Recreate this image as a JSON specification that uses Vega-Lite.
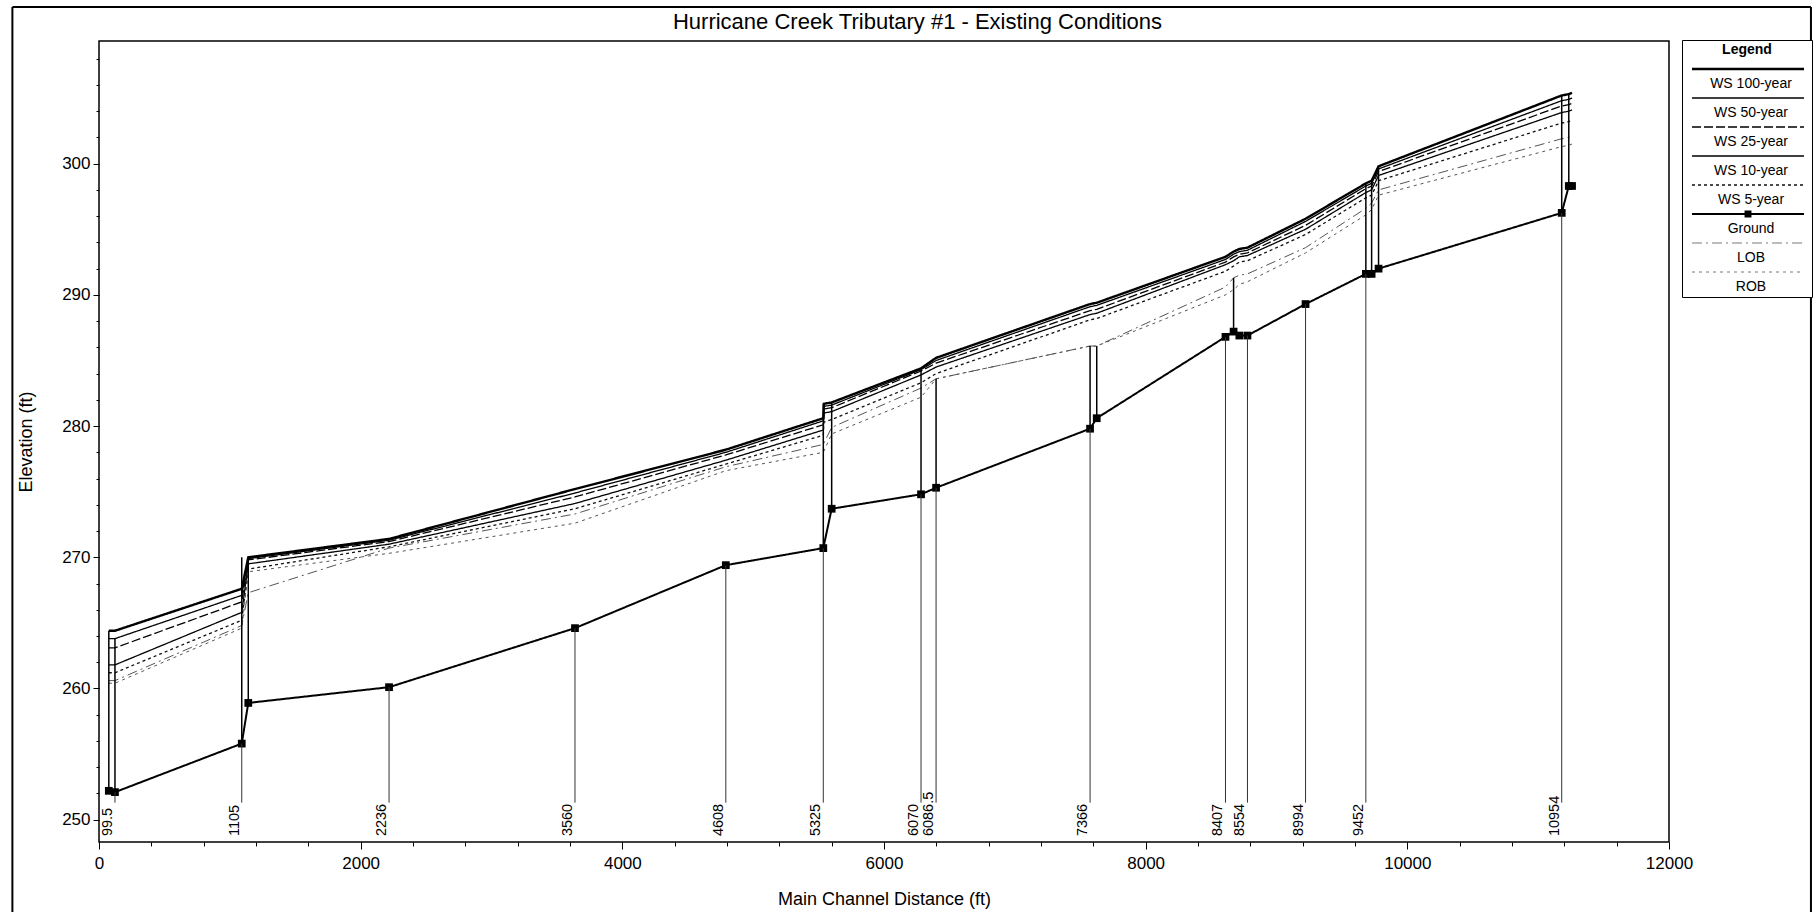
{
  "$schema": "https://vega.github.io/schema/vega-lite/v6.json",
  "width": 1570,
  "height": 801,
  "autosize": {"type": "none"},
  "padding": {"left": 99, "top": 41, "right": 149, "bottom": 70},
  "background": "white",
  "config": {
    "font": "Liberation Sans",
    "view": {"stroke": "black", "strokeWidth": 1.5},
    "axis": {
      "domain": false, "grid": false, "tickColor": "black", "labelColor": "black", "titleColor": "black",
      "labelFont": "Liberation Sans", "titleFont": "Liberation Sans", "labelFontSize": 17, "titleFontSize": 18,
      "titleFontWeight": "normal", "labelOverlap": false, "labelFlush": false
    }
  },
  "resolve": {"axis": {"x": "independent", "y": "independent"}},
  "datasets": {
    "profile": [
      {"i": 1, "x": 75, "ground": 252.2, "ws100": 264.4, "ws50": 263.8, "ws25": 263.1, "ws10": 261.8, "ws5": 261.2, "lob": 260.6, "rob": 260.4, "top": 264.4, "label": null},
      {"i": 2, "x": 122, "ground": 252.1, "ws100": 264.4, "ws50": 263.8, "ws25": 263.1, "ws10": 261.8, "ws5": 261.2, "lob": 260.6, "rob": 260.4, "top": 263.8, "label": "99.5"},
      {"i": 3, "x": 1091, "ground": 255.8, "ws100": 267.6, "ws50": 267.1, "ws25": 266.6, "ws10": 265.8, "ws5": 265.2, "lob": 264.8, "rob": 264.6, "top": 270.0, "label": "1105"},
      {"i": 4, "x": 1141, "ground": 258.9, "ws100": 270.0, "ws50": 269.9, "ws25": 269.8, "ws10": 269.5, "ws5": 269.1, "lob": 267.3, "rob": 268.9, "top": 270.0, "label": null},
      {"i": 5, "x": 2217, "ground": 260.1, "ws100": 271.4, "ws50": 271.3, "ws25": 271.2, "ws10": 271.0, "ws5": 270.8, "lob": 270.7, "rob": 270.3, "top": null, "label": "2236"},
      {"i": 6, "x": 3638, "ground": 264.6, "ws100": 275.2, "ws50": 274.9, "ws25": 274.6, "ws10": 274.1, "ws5": 273.7, "lob": 273.3, "rob": 272.6, "top": null, "label": "3560"},
      {"i": 7, "x": 4791, "ground": 269.4, "ws100": 278.2, "ws50": 278.0, "ws25": 277.8, "ws10": 277.4, "ws5": 277.1, "lob": 276.9, "rob": 276.6, "top": null, "label": "4608"},
      {"i": 8, "x": 5536, "ground": 270.7, "ws100": 280.6, "ws50": 280.4, "ws25": 280.1, "ws10": 279.7, "ws5": 279.3, "lob": 278.6, "rob": 278.0, "top": 281.7, "label": "5325"},
      {"i": 9, "x": 5541, "ground": null, "ws100": 281.7, "ws50": 281.5, "ws25": 281.3, "ws10": 281.0, "ws5": 280.3, "lob": null, "rob": null, "top": null, "label": null},
      {"i": 10, "x": 5600, "ground": 273.7, "ws100": 281.8, "ws50": 281.6, "ws25": 281.4, "ws10": 281.1, "ws5": 280.5, "lob": 279.9, "rob": 279.4, "top": 281.8, "label": null},
      {"i": 11, "x": 6283, "ground": 274.8, "ws100": 284.4, "ws50": 284.3, "ws25": 284.2, "ws10": 283.9, "ws5": 283.3, "lob": 282.9, "rob": 282.2, "top": 284.4, "label": "6070"},
      {"i": 12, "x": 6398, "ground": 275.3, "ws100": 285.2, "ws50": 285.0, "ws25": 284.8, "ws10": 284.5, "ws5": 284.0, "lob": 283.6, "rob": 283.6, "top": 283.6, "label": "6086.5"},
      {"i": 13, "x": 7575, "ground": 279.8, "ws100": 289.3, "ws50": 289.1, "ws25": 288.8, "ws10": 288.5, "ws5": 288.1, "lob": 286.1, "rob": 286.1, "top": 286.1, "label": "7366"},
      {"i": 14, "x": 7626, "ground": 280.6, "ws100": 289.4, "ws50": 289.2, "ws25": 288.9, "ws10": 288.6, "ws5": 288.2, "lob": 286.1, "rob": 286.1, "top": 286.1, "label": null},
      {"i": 15, "x": 8610, "ground": 286.8, "ws100": 292.9, "ws50": 292.7, "ws25": 292.5, "ws10": 292.3, "ws5": 291.8, "lob": 290.6, "rob": 290.0, "top": null, "label": "8407"},
      {"i": 16, "x": 8672, "ground": 287.2, "ws100": 293.3, "ws50": 293.1, "ws25": 292.9, "ws10": 292.6, "ws5": 292.2, "lob": 291.3, "rob": 290.4, "top": 291.3, "label": null},
      {"i": 17, "x": 8716, "ground": 286.9, "ws100": 293.5, "ws50": 293.3, "ws25": 293.1, "ws10": 292.9, "ws5": 292.5, "lob": 291.5, "rob": 290.8, "top": null, "label": null},
      {"i": 18, "x": 8778, "ground": 286.9, "ws100": 293.6, "ws50": 293.4, "ws25": 293.2, "ws10": 293.0, "ws5": 292.6, "lob": 291.6, "rob": 291.0, "top": null, "label": "8554"},
      {"i": 19, "x": 9222, "ground": 289.3, "ws100": 295.8, "ws50": 295.6, "ws25": 295.3, "ws10": 295.0, "ws5": 294.6, "lob": 293.6, "rob": 293.2, "top": null, "label": "8994"},
      {"i": 20, "x": 9683, "ground": 291.6, "ws100": 298.5, "ws50": 298.3, "ws25": 298.1, "ws10": 297.8, "ws5": 297.4, "lob": 296.6, "rob": 296.1, "top": 298.5, "label": "9452"},
      {"i": 21, "x": 9727, "ground": 291.6, "ws100": 298.7, "ws50": 298.5, "ws25": 298.3, "ws10": 298.0, "ws5": 297.6, "lob": 297.0, "rob": 296.5, "top": 298.7, "label": null},
      {"i": 22, "x": 9780, "ground": 292.0, "ws100": 299.8, "ws50": 299.6, "ws25": 299.4, "ws10": 299.1, "ws5": 298.7, "lob": 298.0, "rob": 297.6, "top": 299.8, "label": null},
      {"i": 23, "x": 11180, "ground": 296.25, "ws100": 305.2, "ws50": 304.8, "ws25": 304.4, "ws10": 303.9, "ws5": 303.1, "lob": 301.9, "rob": 301.3, "top": 305.2, "label": "10954"},
      {"i": 24, "x": 11234, "ground": 298.3, "ws100": 305.3, "ws50": 304.9, "ws25": 304.5, "ws10": 304.0, "ws5": 303.2, "lob": 302.0, "rob": 301.4, "top": 305.3, "label": null},
      {"i": 25, "x": 11259, "ground": 298.3, "ws100": 305.4, "ws50": 305.0, "ws25": 304.6, "ws10": 304.1, "ws5": 303.3, "lob": 302.1, "rob": 301.5, "top": null, "label": null}
    ],
    "heading": [
      {"t": "Hurricane Creek Tributary #1 - Existing Conditions"}
    ]
  },
  "data": {"name": "profile"},
  "layer": [
    {
      "transform": [
        {"fold": ["ws100", "ws50", "ws25", "ws10", "ws5", "ground", "lob", "rob"], "as": ["s", "elev"]},
        {"filter": "isValid(datum.elev)"}
      ],
      "mark": {"type": "line"},
      "encoding": {
        "x": {
          "field": "x", "type": "quantitative",
          "scale": {"domain": [0, 12000], "nice": false, "zero": false},
          "axis": {
            "title": "Main Channel Distance (ft)", "format": "d", "orient": "bottom",
            "values": [0, 2000, 4000, 6000, 8000, 10000, 12000],
            "tickSize": 7, "labelPadding": 6, "titlePadding": 19
          }
        },
        "y": {
          "field": "elev", "type": "quantitative",
          "scale": {"domain": [248.3, 309.35], "nice": false, "zero": false},
          "axis": {
            "title": "Elevation (ft)", "format": "d", "orient": "left",
            "values": [250, 260, 270, 280, 290, 300],
            "tickSize": 6, "labelPadding": 3, "titlePadding": 26
          }
        },
        "order": {"field": "i"},
        "color": {
          "field": "s", "type": "nominal",
          "scale": {"domain": ["ws100", "ws50", "ws25", "ws10", "ws5", "ground", "lob", "rob"], "range": ["#000000", "#000000", "#000000", "#000000", "#111111", "#000000", "#555555", "#555555"]},
          "legend": {
            "orient": "none", "legendX": 1583, "legendY": -1,
            "title": "Legend", "titleAnchor": "middle", "titleFontWeight": "bold", "titleFontSize": 14, "titleColor": "black", "titlePadding": 5,
            "labelFontSize": 14, "labelColor": "black", "labelAlign": "center", "labelBaseline": "top", "labelOffset": -4,
            "symbolSize": 49, "symbolOffset": 56,
            "rowPadding": 0, "padding": 3, "strokeColor": "black", "fillColor": "white",
            "labelExpr": "datum.label === 'ws100' ? 'WS 100-year' : datum.label === 'ws50' ? 'WS 50-year' : datum.label === 'ws25' ? 'WS 25-year' : datum.label === 'ws10' ? 'WS 10-year' : datum.label === 'ws5' ? 'WS 5-year' : datum.label === 'ground' ? 'Ground' : datum.label === 'lob' ? 'LOB' : 'ROB'",
            "encode": {
              "labels": {"update": {"dy": {"value": 8}}},
              "symbols": {
                "update": {
                  "shape": {"signal": "datum.value === 'ground' ? 'M-16,0H16M-0.7,-0.7H0.7V0.7H-0.7Z' : 'M-16,0H16'"},
                  "strokeWidth": {"signal": "datum.value === 'ws100' ? 2.4 : datum.value === 'ground' ? 2 : (datum.value === 'lob' || datum.value === 'rob') ? 0.8 : 1.3"},
                  "strokeDash": {"signal": "datum.value === 'ws25' ? [9,3] : datum.value === 'ws5' ? [3,3] : datum.value === 'lob' ? [10,4,2,4] : datum.value === 'rob' ? [3,4] : [1,0]"},
                  "fill": {"value": "black"}
                }
              }
            }
          }
        },
        "strokeDash": {
          "field": "s", "type": "nominal", "legend": null,
          "scale": {"domain": ["ws100", "ws50", "ws25", "ws10", "ws5", "ground", "lob", "rob"], "range": [[1,0],[1,0],[9,3],[1,0],[3,3],[1,0],[10,4,2,4],[3,4]]}
        },
        "strokeWidth": {
          "condition": [
            {"test": "datum.s === 'ws100'", "value": 2.4},
            {"test": "datum.s === 'ground'", "value": 2},
            {"test": "datum.s === 'lob' || datum.s === 'rob'", "value": 1}
          ],
          "value": 1.3
        }
      }
    },
    {
      "transform": [{"filter": "isValid(datum.ground)"}],
      "mark": {"type": "square", "size": 60, "color": "black", "filled": true, "opacity": 1},
      "encoding": {
        "x": {
          "field": "x", "type": "quantitative",
          "axis": {
            "title": null, "labels": false, "orient": "bottom", "tickSize": 4,
            "values": [0,400,800,1200,1600,2000,2400,2800,3200,3600,4000,4400,4800,5200,5600,6000,6400,6800,7200,7600,8000,8400,8800,9200,9600,10000,10400,10800,11200,11600,12000]
          }
        },
        "y": {
          "field": "ground", "type": "quantitative",
          "axis": {
            "title": null, "labels": false, "orient": "left", "tickSize": 3,
            "values": [250,252,254,256,258,260,262,264,266,268,270,272,274,276,278,280,282,284,286,288,290,292,294,296,298,300,302,304,306,308]
          }
        }
      }
    },
    {
      "transform": [{"filter": "isValid(datum.top)"}],
      "mark": {"type": "rule", "color": "black", "strokeWidth": 1.5},
      "encoding": {
        "x": {"field": "x", "type": "quantitative", "axis": null},
        "y": {"field": "ground", "type": "quantitative", "axis": null},
        "y2": {"field": "top"}
      }
    },
    {
      "transform": [{"filter": "isValid(datum.label)"}],
      "mark": {"type": "rule", "color": "#333333", "strokeWidth": 1},
      "encoding": {
        "x": {"field": "x", "type": "quantitative", "axis": null},
        "y": {"field": "ground", "type": "quantitative", "axis": null},
        "y2": {"datum": 251.3}
      }
    },
    {
      "transform": [{"filter": "isValid(datum.label)"}],
      "mark": {"type": "text", "angle": 270, "align": "left", "baseline": "bottom", "fontSize": 14.5, "font": "Liberation Sans", "color": "black"},
      "encoding": {
        "x": {"field": "x", "type": "quantitative", "axis": null},
        "y": {"datum": 248.75, "axis": null},
        "text": {"field": "label"}
      }
    },
    {
      "data": {"name": "heading"},
      "mark": {"type": "text", "align": "center", "baseline": "alphabetic", "fontSize": 22, "font": "Liberation Sans", "color": "black", "clip": false},
      "encoding": {
        "x": {"datum": 6256, "axis": null},
        "y": {"datum": 310.23, "axis": null},
        "text": {"field": "t"}
      }
    },
    {
      "data": {"name": "heading"},
      "mark": {"type": "rule", "color": "black", "strokeWidth": 2, "clip": false},
      "encoding": {
        "x": {"datum": -662, "axis": null},
        "y": {"datum": 242.5, "axis": null},
        "y2": {"datum": 311.95}
      }
    },
    {
      "data": {"name": "heading"},
      "mark": {"type": "rule", "color": "black", "strokeWidth": 2, "clip": false},
      "encoding": {
        "x": {"datum": 13085, "axis": null},
        "y": {"datum": 242.5, "axis": null},
        "y2": {"datum": 311.95}
      }
    },
    {
      "data": {"name": "heading"},
      "mark": {"type": "rule", "color": "black", "strokeWidth": 2, "clip": false},
      "encoding": {
        "x": {"datum": -662, "axis": null},
        "x2": {"datum": 13085},
        "y": {"datum": 311.95, "axis": null}
      }
    }
  ]
}
